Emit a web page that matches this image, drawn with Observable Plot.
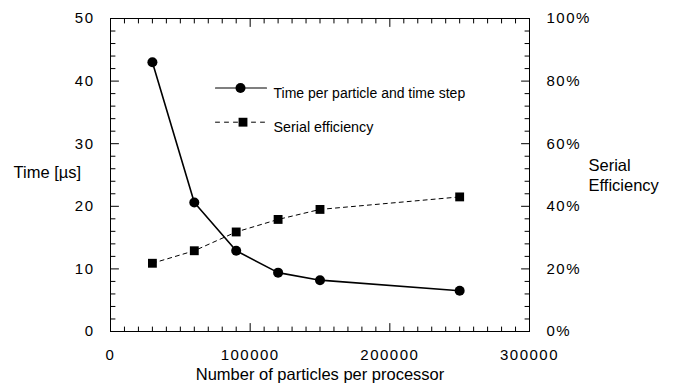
<!DOCTYPE html>
<html>
<head>
<meta charset="utf-8">
<script src="https://cdn.jsdelivr.net/npm/d3@7"></script>
<script src="https://cdn.jsdelivr.net/npm/@observablehq/plot@0.6"></script>
<style>
  html, body { margin: 0; padding: 0; background: #fff; }
  #chart svg [aria-label$="tick label"] { letter-spacing: 1.5px; }
</style>
</head>
<body>
<div id="chart"></div>
<script>
// ---- data ----
const particles = [30000, 60000, 90000, 120000, 150000, 250000];
const timePerParticle = [43.0, 20.6, 12.9, 9.4, 8.2, 6.5];
const serialEfficiencyPct = [21.8, 25.8, 31.8, 35.8, 39.0, 43.0];

const xTicks = [0, 100000, 200000, 300000];
const xTickLabels = ["0", "100000", "200000", "300000"];
const yTicks = [0, 10, 20, 30, 40, 50];
const yTickLabels = ["0", "10", "20", "30", "40", "50"];
const pctTickLabels = ["0%", "20%", "40%", "60%", "80%", "100%"];

const seriesNames = ["Time per particle and time step", "Serial efficiency"];
const xTitle = "Number of particles per processor";
const yTitle = "Time [\u00b5s]";
const y2Title = "Serial\nEfficiency";

const xMinor = d3.range(0, 300001, 10000).filter(d => !xTicks.includes(d));
const yMinor = d3.range(0, 50.01, 2).filter(d => !yTicks.includes(d));

const timeData = particles.map((x, i) => ({x, y: timePerParticle[i]}));
// efficiency (0–100 %) shares the left axis range 0–50
const effData = particles.map((x, i) => ({x, y: serialEfficiencyPct[i] / 2}));

const font = "'Liberation Sans', Arial, Helvetica, sans-serif";
const majorLen = 8, minorLen = 4.5;

// plain straight segment (no arrowhead)
const segment = {draw(context, l) { context.moveTo(0, 0); context.lineTo(0, -l); }};

const tickMarks = (values, len) => [
  Plot.vector(values, {x: d => d, frameAnchor: "bottom", rotate: 0, length: len, anchor: "start", shape: segment, stroke: "black", strokeWidth: 1}),
  Plot.vector(values, {x: d => d, frameAnchor: "top", rotate: 180, length: len, anchor: "start", shape: segment, stroke: "black", strokeWidth: 1})
];
const yTickMarks = (values, len) => [
  Plot.vector(values, {y: d => d, frameAnchor: "left", rotate: 90, length: len, anchor: "start", shape: segment, stroke: "black", strokeWidth: 1}),
  Plot.vector(values, {y: d => d, frameAnchor: "right", rotate: 270, length: len, anchor: "start", shape: segment, stroke: "black", strokeWidth: 1})
];

const chart = Plot.plot({
  width: 673,
  height: 388,
  marginTop: 18,
  marginRight: 144,
  marginBottom: 57,
  marginLeft: 110,
  style: {fontFamily: font, fontSize: "15px", color: "black", background: "white"},
  x: {domain: [0, 300000]},
  y: {domain: [0, 50]},
  marks: [
    Plot.frame({stroke: "black", strokeWidth: 1}),
    ...tickMarks(xMinor, minorLen),
    ...tickMarks(xTicks, majorLen),
    ...yTickMarks(yMinor, minorLen),
    ...yTickMarks(yTicks, majorLen),
    Plot.axisX(xTicks, {anchor: "bottom", tickSize: 0, tickPadding: 18, label: null,
      tickFormat: d => xTickLabels[xTicks.indexOf(d)], fontSize: 15}),
    Plot.axisY(yTicks, {anchor: "left", tickSize: 0, tickPadding: 16, label: null,
      tickFormat: d => yTickLabels[yTicks.indexOf(d)], fontSize: 15}),
    Plot.axisY(yTicks, {anchor: "right", tickSize: 0, tickPadding: 17, label: null,
      tickFormat: d => pctTickLabels[yTicks.indexOf(d)], fontSize: 15}),
    // series
    Plot.line(effData, {x: "x", y: "y", stroke: "black", strokeWidth: 1, strokeDasharray: "4,4"}),
    Plot.line(timeData, {x: "x", y: "y", stroke: "black", strokeWidth: 1.6}),
    Plot.dot(effData, {x: "x", y: "y", symbol: "square", r: 5, fill: "black", stroke: "none"}),
    Plot.dot(timeData, {x: "x", y: "y", symbol: "circle", r: 5, fill: "black", stroke: "none"}),
    // legend
    Plot.vector([seriesNames[0]], {frameAnchor: "top-left", dx: 105, dy: 69.5, rotate: 90, length: 51, anchor: "start", shape: segment, stroke: "black", strokeWidth: 1.2}),
    Plot.dot([seriesNames[0]], {frameAnchor: "top-left", dx: 130, dy: 69.5, r: 5, fill: "black", stroke: "none"}),
    Plot.text([seriesNames[0]], {frameAnchor: "top-left", dx: 163, dy: 69.5, text: d => d, textAnchor: "start", fontSize: 14, fill: "black"}),
    Plot.vector([seriesNames[1]], {frameAnchor: "top-left", dx: 105, dy: 103.7, rotate: 90, length: 51, anchor: "start", shape: segment, stroke: "black", strokeWidth: 1, strokeDasharray: "4,5"}),
    Plot.dot([seriesNames[1]], {frameAnchor: "top-left", dx: 132.5, dy: 103.7, symbol: "square", r: 5, fill: "black", stroke: "none"}),
    Plot.text([seriesNames[1]], {frameAnchor: "top-left", dx: 163, dy: 103.7, text: d => d, textAnchor: "start", fontSize: 14.3, fill: "black"}),
    // axis titles
    Plot.text([xTitle], {frameAnchor: "bottom", dy: 48, text: d => d, lineAnchor: "bottom", textAnchor: "middle", fontSize: 16.5, fill: "black"}),
    Plot.text([yTitle], {frameAnchor: "left", dx: -97, dy: 2.8, text: d => d, lineAnchor: "bottom", textAnchor: "start", fontSize: 16.5, fill: "black"}),
    Plot.text([y2Title], {frameAnchor: "right", dx: 59, dy: 15.5, text: d => d, lineAnchor: "bottom", textAnchor: "start", fontSize: 16.5, lineHeight: 1.21, fill: "black"})
  ]
});
document.getElementById("chart").appendChild(chart);
</script>
</body>
</html>
